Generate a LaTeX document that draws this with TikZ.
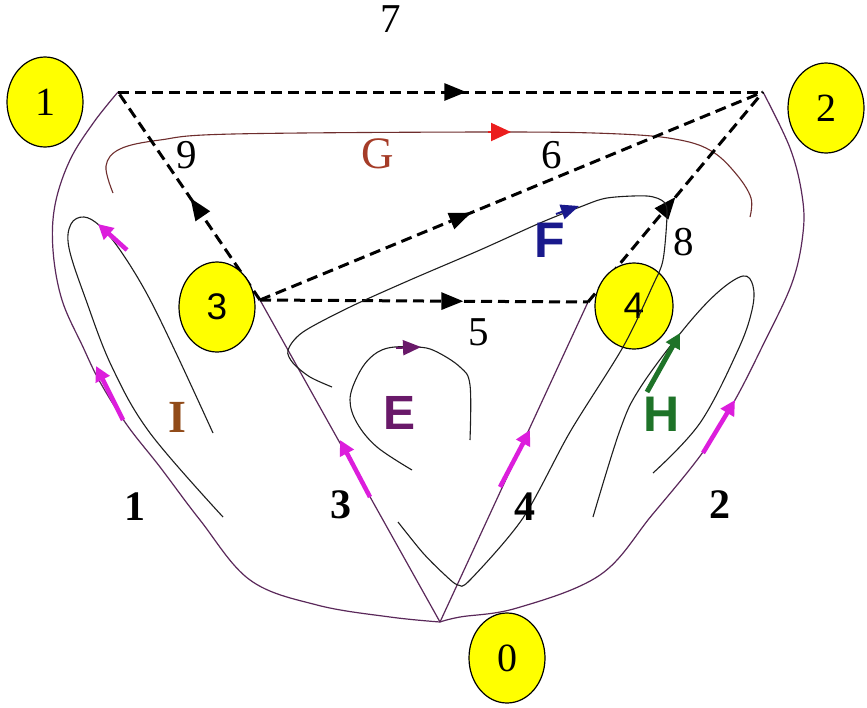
\documentclass[tikz,border=0pt]{standalone}
\usepackage{fontspec}
\setmainfont{Liberation Serif}
\setsansfont{Liberation Sans}
\usetikzlibrary{shapes.geometric,arrows.meta,decorations.markings}
\definecolor{edgecol}{RGB}{90,40,90}
\definecolor{loopcol}{RGB}{30,30,30}
\definecolor{gcol}{RGB}{110,45,45}
\definecolor{garrow}{RGB}{235,30,30}
\definecolor{pinkarr}{RGB}{220,30,220}
\definecolor{fcol}{RGB}{25,25,140}
\definecolor{ecol}{RGB}{105,25,105}
\definecolor{hcol}{RGB}{30,115,40}
\definecolor{icol}{RGB}{145,75,25}
\definecolor{gtext}{RGB}{165,60,40}
\definecolor{ballfill}{RGB}{255,255,0}
\tikzset{
  ball/.style={ellipse, draw=black, line width=1.2pt, fill=ballfill, minimum width=76pt, minimum height=90pt, inner sep=0pt},
  dashedge/.style={draw=black, line width=3pt, dash pattern=on 11pt off 6pt,
    decoration={markings, mark=at position #1 with {\arrow{Triangle[length=22pt,width=17pt]}}},
    postaction={decorate}},
  thinedge/.style={draw=edgecol, line width=1.2pt},
  loopline/.style={draw=loopcol, line width=1.1pt},
  pinkarrow/.style={draw=pinkarr, line width=4.5pt, -{Triangle[length=15pt,width=15pt]}},
  lab/.style={font=\fontsize{42}{46}\selectfont\bfseries, text=black},
  labr/.style={font=\fontsize{41}{45}\selectfont, text=black},
  balltext/.style={font=\fontsize{40}{44}\selectfont},
  balltextsf/.style={font=\fontsize{37}{40}\selectfont\sffamily}
}
\begin{document}
\begin{tikzpicture}[x=1pt,y=-1pt]
\useasboundingbox (0,0) rectangle (867,707);
\fill[white] (0,0) rectangle (867,707);
% vertices
\coordinate (v1) at (118,92);
\coordinate (v2) at (763,92);
\coordinate (v3) at (260,300);
\coordinate (v4) at (588,302);
\coordinate (v0) at (440,622);

% thin edges from 0
\draw[thinedge] plot[smooth, tension=0.6] coordinates {(v0) (390,617) (317,605) (250,580) (200,520) (160,467) (127,425) (100,382) (83,347) (62,300) (53,250) (55,205) (70,160) (94,122) (v1)};
\draw[thinedge] plot[smooth, tension=0.6] coordinates {(v0) (460,617) (517,608) (600,575) (652,515) (703,452) (735,400) (763,345) (792,283) (803,233) (802,195) (790,148) (v2)};
\draw[thinedge] (v0) -- (v3);
\draw[thinedge] (v0) -- (v4);

% G curve
\draw[draw=gcol, line width=1.1pt] plot[smooth, tension=0.6] coordinates {(113,193) (106,166) (120,149) (160,140) (233,134) (500,132) (620,134) (680,140) (713,152) (737,175) (751,198) (750,217)};
\draw[draw=garrow, line width=2pt, -{Triangle[length=20pt,width=18pt]}] (488,132) -- (511,132);

% I loop
\draw[loopline] plot[smooth, tension=0.6] coordinates {(223,517) (150,433) (112,367) (86,300) (69,248) (71,224) (84,217) (100,226) (120,250) (147,294) (177,355) (213,433)};

% E loop
\draw[loopline] plot[smooth, tension=0.6] coordinates {(412,470) (377,447) (357,423) (350,400) (357,377) (370,358) (388,348) (417,347) (435,351) (460,367) (470,385) (470,440)};
\draw[draw=ecol, line width=2pt, -{Triangle[length=18pt,width=15pt]}] (396,348) -- (421,347);

% H loop
\draw[loopline] plot[smooth, tension=0.6] coordinates {(593,517) (620,430) (640,388) (683,330) (717,293) (743,276) (753,286) (752,310) (738,350) (700,423) (653,473)};

% dashed edges
\draw[dashedge=0.54] (v1) -- (v2);
\draw[dashedge=0.49] (v3) -- (v1);
\draw[dashedge=0.42] (v3) -- (v2);
\draw[dashedge=0.62] (v3) -- (v4);
\draw[dashedge=0.50] (v4) -- (v2);

% balls
\node[ball, balltext] (b1) at (45,102) {1};
\node[ball, balltext] (b2) at (826,108) {2};
\node[ball, balltextsf] (b3) at (217,307) {3};
\node[ball, balltextsf, minimum width=78pt, minimum height=86pt] (b4) at (634,306) {4};
\node[ball, balltext] (b0) at (507,658) {0};

% F loop (drawn over ball 4)
\draw[loopline] plot[smooth, tension=0.5] coordinates {(332,387) (310,377) (293,363) (288,350) (303,332) (350,307) (410,280) (480,250) (540,223) (580,207) (607,198) (647,196) (664,202) (667,215) (663,260) (653,285) (623,347) (570,432) (523,518) (470,580) (458,585) (445,575) (423,553) (398,522)};
\draw[draw=fcol, line width=2pt, -{Triangle[length=18pt,width=15pt]}] (556,214) -- (579,206);

% pink and green arrows
\draw[pinkarrow] (127,250) -- (98,224);
\draw[pinkarrow] (123,420) -- (96,366);
\draw[pinkarrow] (370,497) -- (340,440);
\draw[pinkarrow] (500,487) -- (530,430);
\draw[pinkarrow] (703,453) -- (735,400);
\draw[draw=hcol, line width=5pt, -{Triangle[length=15pt,width=15pt]}] (647,392) -- (680,333);

% labels
\node[labr] (l7) at (391,19) {7};
\node[labr] (l9) at (187,155) {9};
\node[labr] (l6) at (552,155) {6};
\node[labr] (l5) at (479,332) {5};
\node[labr] (l8) at (684,242) {8};
\node[lab] (l1) at (135,507) {1};
\node[lab] (l3) at (341,505) {3};
\node[lab] (l4) at (525,507) {4};
\node[lab] (l2) at (720,505) {2};
\node[font=\fontsize{45}{50}\selectfont, text=gtext] (lG) at (378,154) {G};
\node[font=\fontsize{50}{54}\selectfont\sffamily\bfseries, text=fcol] (lF) at (550,240) {F};
\node[font=\fontsize{48}{52}\selectfont\sffamily\bfseries, text=ecol] (lE) at (400,413) {E};
\node[font=\fontsize{50}{54}\selectfont\sffamily\bfseries, text=hcol] (lH) at (662,414) {H};
\node[font=\fontsize{46}{50}\selectfont\bfseries, text=icol] (lI) at (177,417) {I};
\end{tikzpicture}
\end{document}
